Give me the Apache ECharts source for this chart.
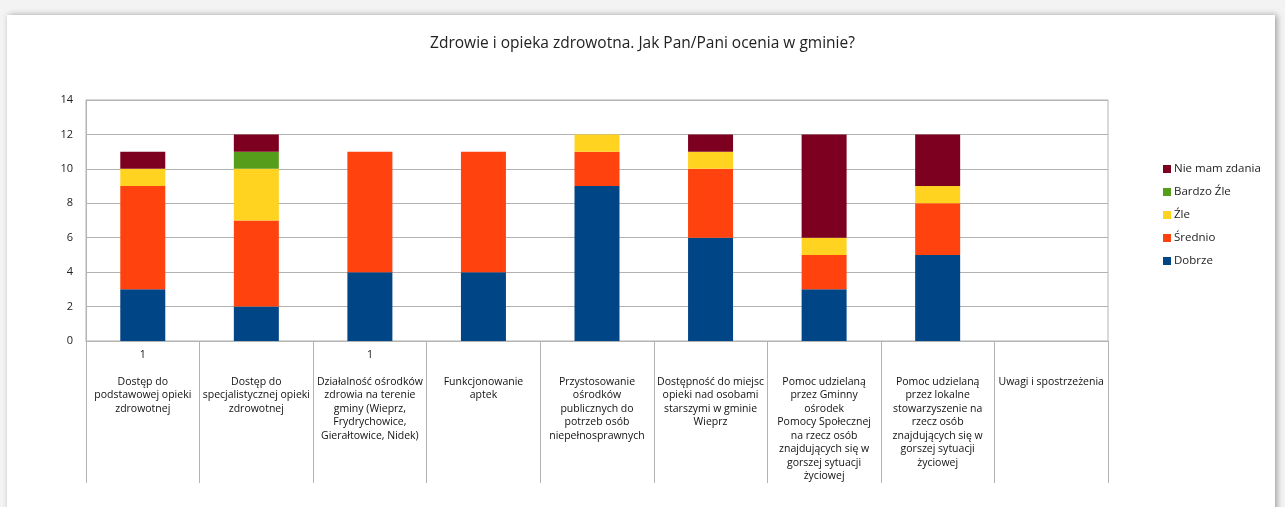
<!DOCTYPE html>
<html>
<head>
<meta charset="utf-8">
<script src="https://cdn.jsdelivr.net/npm/echarts@6/dist/echarts.min.js"></script>
<style>
  html, body { margin: 0; padding: 0; width: 1285px; height: 507px; overflow: hidden; background: #f3f3f3; }
  #card { position: absolute; left: 7px; top: 15px; width: 1268px; height: 500px; background: #ffffff;
          box-shadow: 2px 0 6px rgba(0,0,0,0.35); }
  #chart { position: absolute; left: 0; top: 0; width: 1285px; height: 507px; }
</style>
</head>
<body>
<div id="card"></div>
<div id="chart"></div>
<script>
const categories = [
  "Dostęp do\npodstawowej opieki\nzdrowotnej",
  "Dostęp do\nspecjalistycznej opieki\nzdrowotnej",
  "Działalność ośrodków\nzdrowia na terenie\ngminy (Wieprz,\nFrydrychowice,\nGierałtowice, Nidek)",
  "Funkcjonowanie\naptek",
  "Przystosowanie\nośrodków\npublicznych do\npotrzeb osób\nniepełnosprawnych",
  "Dostępność do miejsc\nopieki nad osobami\nstarszymi w gminie\nWieprz",
  "Pomoc udzielaną\nprzez Gminny\nośrodek\nPomocy Społecznej\nna rzecz osób\nznajdujących się w\ngorszej sytuacji\nżyciowej",
  "Pomoc udzielaną\nprzez lokalne\nstowarzyszenie na\nrzecz osób\nznajdujących się w\ngorszej sytuacji\nżyciowej",
  "Uwagi i spostrzeżenia"
];
const labelPrefix = ["1", "", "1", "", "", "", "", "", ""];

const dobrze     = [3, 2, 4, 4, 9, 6, 3, 5, 0];
const srednio    = [6, 5, 7, 7, 2, 4, 2, 3, 0];
const zle        = [1, 3, 0, 0, 1, 1, 1, 1, 0];
const bardzoZle  = [0, 1, 0, 0, 0, 0, 0, 0, 0];
const nieMam     = [1, 1, 0, 0, 0, 1, 6, 3, 0];

const yTicks = [0, 2, 4, 6, 8, 10, 12, 14];

const seriesNames = ["Dobrze", "Średnio", "Źle", "Bardzo Źle", "Nie mam zdania"];
const seriesData = [dobrze, srednio, zle, bardzoZle, nieMam];
const colors = ["#004586", "#ff420e", "#ffd320", "#579d1c", "#7e0021"];

const chart = echarts.init(document.getElementById('chart'));
const font = "'Open Sans', 'Noto Sans', sans-serif";

chart.setOption({
  animation: false,
  backgroundColor: 'transparent',
  title: {
    text: "Zdrowie i opieka zdrowotna. Jak Pan/Pani ocenia w gminie?",
    left: 'center',
    top: 31,
    textStyle: { fontFamily: font, fontSize: 15.5, fontWeight: 'normal', color: '#222' }
  },
  legend: {
    orient: 'vertical',
    left: 1158,
    top: 158,
    itemWidth: 8,
    itemHeight: 8,
    itemGap: 11,
    icon: 'rect',
    data: ["Nie mam zdania", "Bardzo Źle", "Źle", "Średnio", "Dobrze"],
    textStyle: { fontFamily: font, fontSize: 11.5, color: '#222', padding: [0, 0, 0, -2] }
  },
  grid: {
    left: 86, right: 177, top: 100, bottom: 166,
    show: true, borderColor: '#b3b3b3', borderWidth: 1
  },
  xAxis: {
    type: 'category',
    data: categories,
    boundaryGap: true,
    axisLine: { show: true, lineStyle: { color: '#b3b3b3' } },
    axisTick: { show: true, length: 142, interval: 0, lineStyle: { color: '#b3b3b3' } },
    axisLabel: {
      interval: 0,
      margin: 7,
      verticalAlign: 'top',
      fontFamily: font,
      fontSize: 10.5,
      lineHeight: 13.5,
      color: '#111',
      formatter: function (v, i) { return labelPrefix[i] + "\n\n" + v; }
    }
  },
  yAxis: {
    type: 'value',
    min: yTicks[0],
    max: yTicks[yTicks.length - 1],
    interval: 2,
    axisLine: { show: true, lineStyle: { color: '#b3b3b3' } },
    axisTick: { show: false },
    splitLine: { show: true, lineStyle: { color: '#b3b3b3' } },
    axisLabel: { margin: 13, fontFamily: font, fontSize: 11, color: '#222' }
  },
  series: seriesNames.map((n, k) => ({
    name: n,
    type: 'bar',
    stack: 'total',
    barWidth: 45,
    itemStyle: { color: colors[k] },
    data: seriesData[k]
  }))
});
</script>
</body>
</html>
